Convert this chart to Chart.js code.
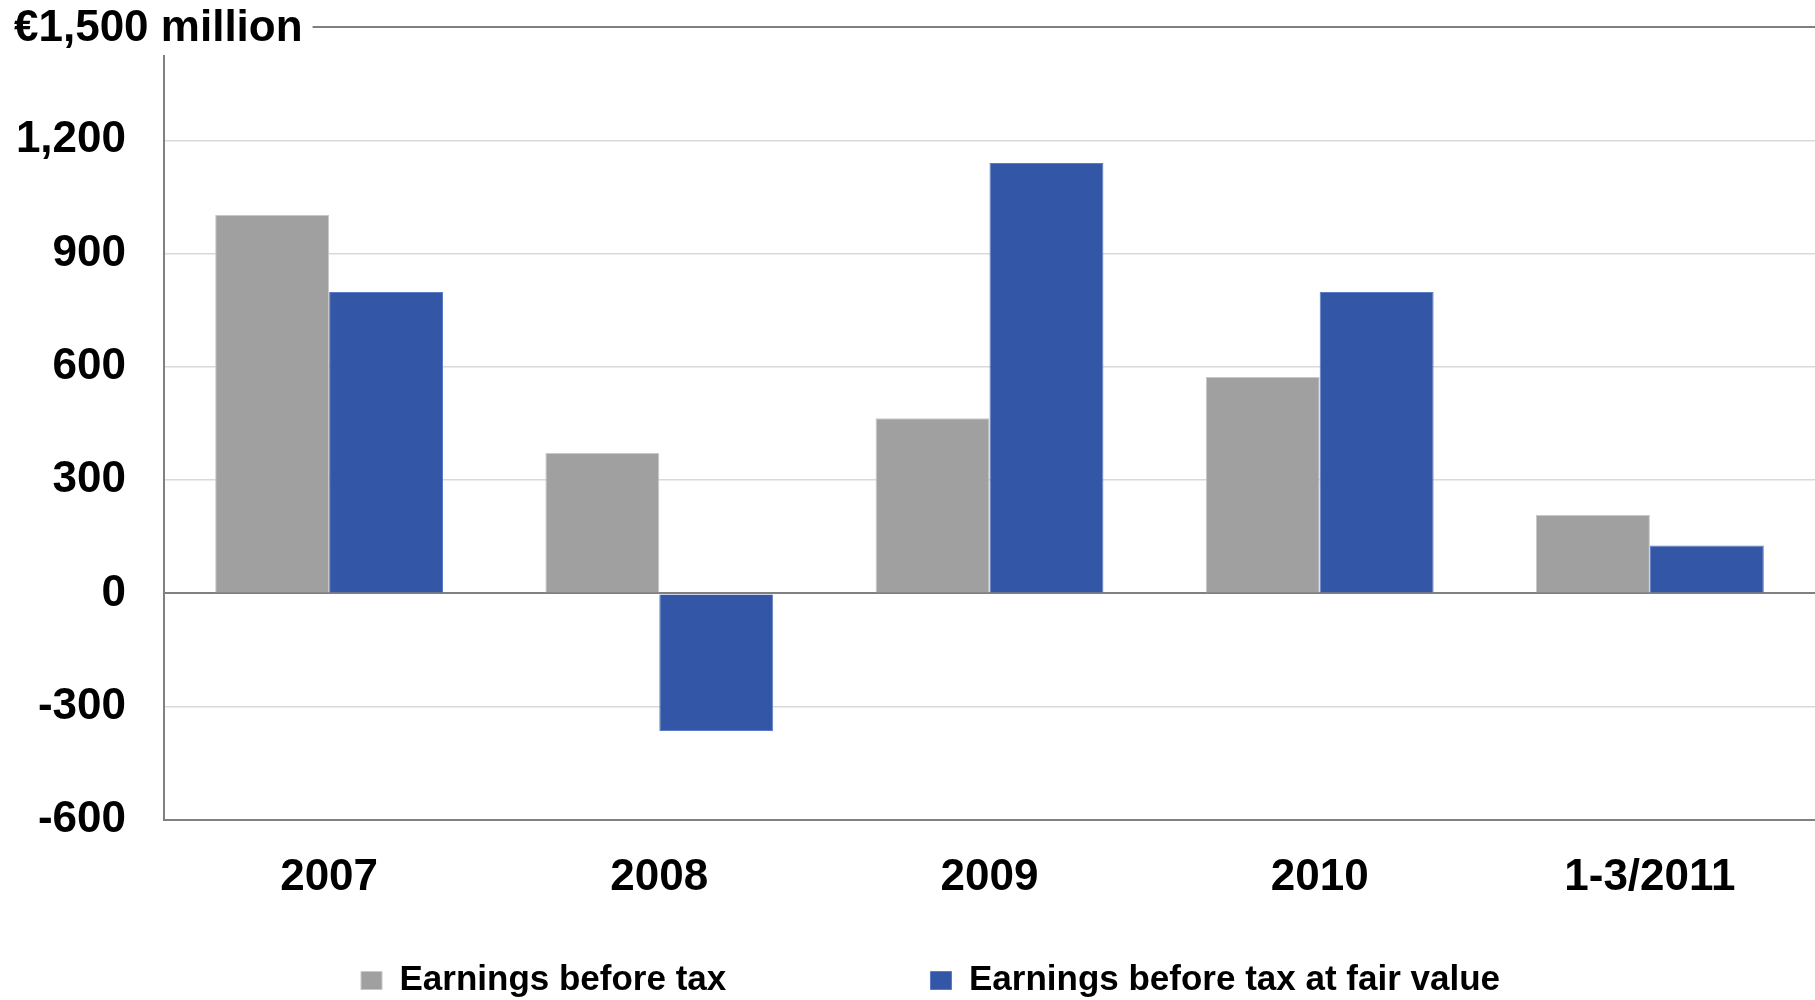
<!DOCTYPE html>
<html>
<head>
<meta charset="utf-8">
<script src="https://cdn.jsdelivr.net/npm/chart.js@4"></script>
<style>
  html, body { margin: 0; padding: 0; background: #fff; }
  #wrap { width: 1815px; height: 1000px; }
</style>
</head>
<body>
<div id="wrap"><canvas id="earningsChart"></canvas></div>
<script>
var periods = ['2007', '2008', '2009', '2010', '1-3/2011'];
var earningsBeforeTax = [1003, 372, 464, 573, 208];
var earningsFairValue = [798, -364, 1140, 798, 127];
var seriesNames = ['Earnings before tax', 'Earnings before tax at fair value'];
var yTicks = [-600, -300, 0, 300, 600, 900, 1200, 1500];
var topLabel = '€1,500 million';

var FONT = '"Liberation Sans", Arial, sans-serif';
var DARK = '#808080';
var LIGHT = '#d9d9d9';

// label at the top of the value axis + the line next to it, and the axis line itself
var axisExtras = {
    id: 'axisExtras',
    afterLayout: function(chart) {
        // legend sits a little right of the canvas centre in the original
        chart.legend.left += 34;
    },
    afterDraw: function(chart) {
        var ctx = chart.ctx;
        var y = chart.scales.y;
        var area = chart.chartArea;
        var yTop = y.getPixelForValue(yTicks[yTicks.length - 1]);
        ctx.save();
        ctx.font = 'bold 44px ' + FONT;
        ctx.fillStyle = '#000';
        ctx.textBaseline = 'middle';
        ctx.textAlign = 'left';
        ctx.fillText(topLabel, 14, yTop + 2);
        var w = ctx.measureText(topLabel).width;
        ctx.strokeStyle = DARK;
        ctx.lineWidth = 2;
        ctx.beginPath();
        ctx.moveTo(14 + w + 10, yTop);
        ctx.lineTo(area.right, yTop);
        ctx.stroke();
        ctx.beginPath();
        ctx.moveTo(area.left, yTop + 28);
        ctx.lineTo(area.left, area.bottom);
        ctx.stroke();
        ctx.restore();
    }
};

var ctx = document.getElementById('earningsChart').getContext('2d');
var chart = new Chart(ctx, {
    type: 'bar',
    data: {
        labels: periods,
        datasets: [{
            label: seriesNames[0],
            data: earningsBeforeTax,
            backgroundColor: '#a0a0a0',
            borderColor: '#c8c8c8',
            borderWidth: 1
        }, {
            label: seriesNames[1],
            data: earningsFairValue,
            backgroundColor: '#3356a6',
            borderColor: '#5b7cc4',
            borderWidth: 1
        }]
    },
    options: {
        responsive: true,
        maintainAspectRatio: false,
        animation: false,
        datasets: {
            bar: { categoryPercentage: 0.69, barPercentage: 1.0 }
        },
        layout: { padding: { left: 12, right: 0, top: 27, bottom: -8 } },
        plugins: {
            tooltip: { enabled: false },
            legend: {
                position: 'bottom',
                labels: {
                    color: '#000',
                    font: { family: FONT, size: 35, weight: 'bold' },
                    boxWidth: 21,
                    boxHeight: 18,
                    padding: 0,
                    generateLabels: function(chart) {
                        var items = Chart.defaults.plugins.legend.labels.generateLabels(chart);
                        // wide gap between the two entries, as in the original
                        items[0].text = items[0].text + ' '.repeat(21);
                        return items;
                    }
                }
            }
        },
        scales: {
            x: {
                afterFit: function(scale) { scale.height = 143; },
                grid: { display: false },
                border: { color: DARK, width: 2 },
                ticks: {
                    color: '#000',
                    padding: 23,
                    font: { family: FONT, size: 44, weight: 'bold' }
                }
            },
            y: {
                min: -600,
                max: 1500,
                afterFit: function(scale) {
                    scale.width = 152;
                    scale.paddingTop = 0;
                    scale.paddingBottom = 0;
                },
                afterBuildTicks: function(scale) {
                    scale.ticks = yTicks.map(function(v) { return { value: v }; });
                },
                border: { display: false },
                grid: {
                    drawTicks: false,
                    lineWidth: function(c) { return c.tick && c.tick.value === 0 ? 2 : 1.5; },
                    color: function(c) {
                        if (!c.tick) return LIGHT;
                        if (c.tick.value === 1500) return 'rgba(0,0,0,0)';
                        if (c.tick.value === 0 || c.tick.value === -600) return DARK;
                        return LIGHT;
                    }
                },
                ticks: {
                    color: '#000',
                    padding: 38,
                    font: { family: FONT, size: 44, weight: 'bold' },
                    callback: function(v) {
                        if (v === 1500) return '';
                        return v.toLocaleString('en-US');
                    }
                }
            }
        }
    },
    plugins: [axisExtras]
});
</script>
</body>
</html>
